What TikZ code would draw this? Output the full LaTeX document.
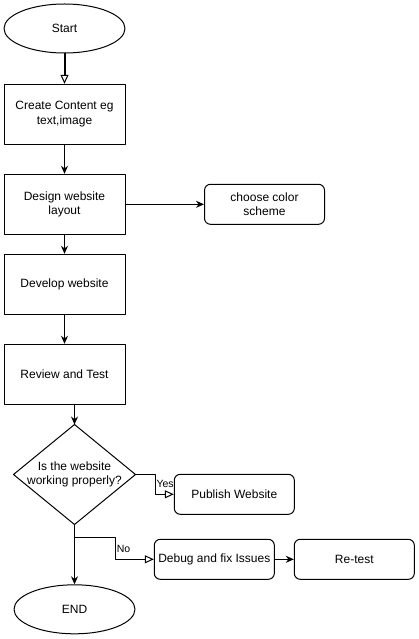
\documentclass[tikz,border=0pt]{standalone}
\usepackage{fontspec}
\setmainfont{Liberation Sans}
\usetikzlibrary{shapes.geometric,arrows.meta}

\begin{document}
\begin{tikzpicture}[x=1pt, y=-1pt, line width=1pt, line join=round,
  font=\fontsize{12}{14.5}\selectfont, >={Stealth[length=8pt,width=7pt]},
  term/.style={draw, ellipse, minimum width=121pt, minimum height=49pt, inner sep=0pt},
  stepbox/.style={draw, minimum width=121pt, minimum height=60pt, align=center, inner sep=0pt},
  sidebox/.style={draw, rounded corners=6pt, minimum width=120pt, minimum height=40pt, align=center, inner sep=0pt},
  opentip/.style={-{Triangle[open,length=9pt,width=8pt,line width=1pt]}},
  lbl/.style={font=\fontsize{10.5}{12}\selectfont, inner sep=1pt}]
\useasboundingbox (0,0) rectangle (419,639);
% --- Cot chinh ---
\node[term] (start) at (64.5,28.5) {Start};
\node[stepbox] (content) at (64.5,114.3) {Create Content eg\\text,image};
\node[stepbox] (design) at (64.5,204.3) {Design website\\layout};
\node[stepbox] (develop) at (64.5,284.3) {Develop website};
\node[stepbox] (review) at (64.5,374.3) {Review and Test};
% --- Re nhanh ---
\node[minimum width=121pt, minimum height=99pt, align=center, inner sep=0pt] (check) at (74.5,474.5) {Is the website\\working properly?};
\draw (check.north) -- (check.east) -- (check.south) -- (check.west) -- cycle;
\node[term] (finish) at (74.5,609.3) {END};
% --- Hop ben phai ---
\node[sidebox] (color) at (264.5,204.3) {choose color\\scheme};
\node[sidebox] (publish) at (234.3,494.3) {Publish Website};
\node[sidebox] (debug) at (214.3,559.3) {Debug and fix Issues};
\node[sidebox] (retest) at (354.3,559.3) {Re-test};

% --- Mui ten ---
\draw[opentip, line width=2pt] (start) -- (content);
\draw[->] (content) -- (design);
\draw[->] (design) -- (develop);
\draw[->] (develop) -- (review);
\draw[->] (design) -- (color);
\draw[->] (check.north |- review.south) -- (check.north);
\draw[opentip] (check.east) -- ++(19.6,0) |- node[pos=0.25, right, lbl] {Yes} (publish.west);
\draw[->] (check.south) -- (finish.north);
\draw[opentip] (check.south) ++(0,13.3) -- ++(40.8,0) |- node[pos=0.25, right, lbl] {No} (debug.west);
\draw[->] (debug) -- (retest);
\end{tikzpicture}
\end{document}
